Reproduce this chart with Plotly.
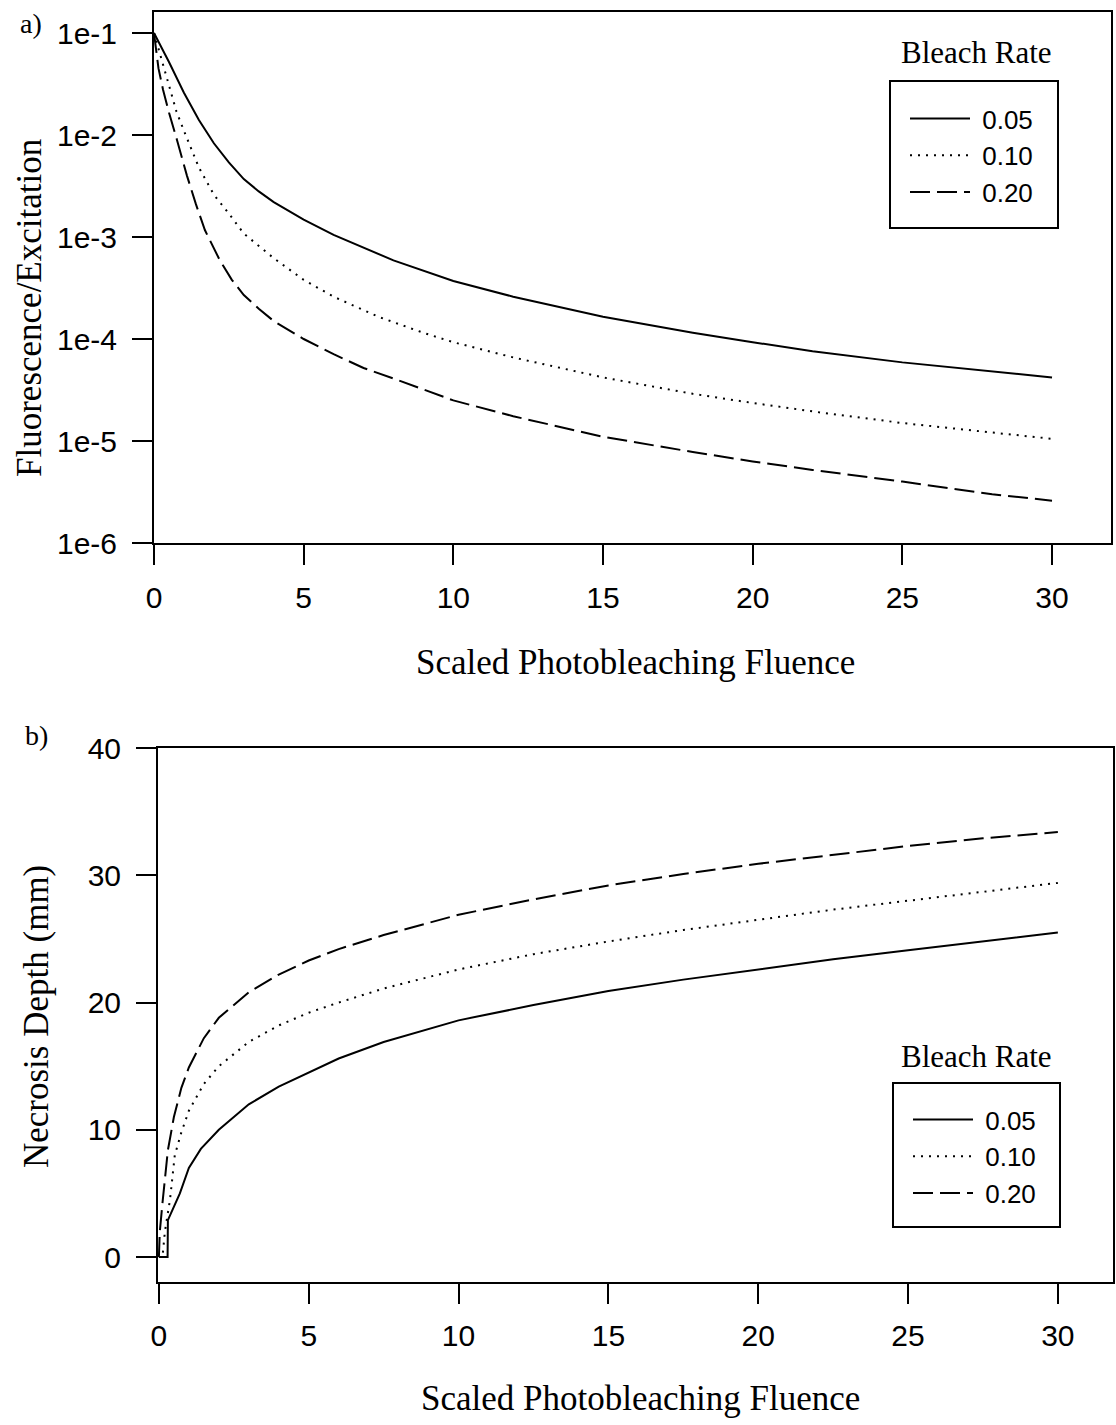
import plotly.graph_objects as go

W, H = 1116, 1425

# ---------------- data ----------------
rates = ["0.05", "0.10", "0.20"]

# panel a) Fluorescence/Excitation vs scaled photobleaching fluence
a_x_005 = [0, 0.5, 1, 1.5, 2, 2.5, 3, 3.5, 4, 4.5, 5, 6, 7, 8, 10, 12, 15, 18, 20, 22, 25, 28, 30]
a_y_005 = [0.1, 0.052, 0.026, 0.014, 0.0083, 0.0054, 0.0037, 0.0028, 0.0022, 0.0018, 0.00148, 0.00105,
           0.00078, 0.00059, 0.00037, 0.00026, 0.000165, 0.000115, 0.000093, 0.000076, 0.000059,
           0.000048, 0.000042]

a_x_010 = [0, 0.25, 0.5, 0.75, 1, 1.5, 2, 2.5, 3, 4, 5, 6, 7.5, 9, 10, 12, 15, 18, 20, 22, 25, 28, 30]
a_y_010 = [0.1, 0.055, 0.03, 0.017, 0.011, 0.0048, 0.0026, 0.0017, 0.00108, 0.00062, 0.00038, 0.00026,
           0.000165, 0.000115, 0.000093, 0.000066, 0.000042, 0.000029, 0.0000236, 0.0000195, 0.000015,
           0.000012, 0.0000105]

a_x_020 = [0, 0.15, 0.3, 0.5, 0.77, 1.1, 1.4, 1.7, 2.2, 2.6, 3, 3.5, 4, 5, 6, 7, 8, 10, 12, 15, 18, 20,
           22, 25, 28, 30]
a_y_020 = [0.1, 0.045, 0.028, 0.0166, 0.0089, 0.004, 0.0021, 0.00117, 0.00059, 0.00038, 0.00027,
           0.000198, 0.00015, 0.0001, 0.000071, 0.000052, 0.000041, 0.000025, 0.0000175, 0.000011,
           0.0000078, 0.0000063, 0.0000052, 0.000004, 0.000003, 0.0000026]

a_ytickvals = [1e-1, 1e-2, 1e-3, 1e-4, 1e-5, 1e-6]
a_yticktext = ["1e-1", "1e-2", "1e-3", "1e-4", "1e-5", "1e-6"]

# panel b) Necrosis depth (mm) vs scaled photobleaching fluence
b_x_005 = [0, 0.29, 0.3, 0.5, 0.7, 1.0, 1.4, 2, 3, 4, 5, 6, 7.5, 10, 12.5, 15, 17.5, 20, 22.5, 25, 27.5, 30]
b_y_005 = [0, 0, 2.9, 4.0, 5.0, 7.0, 8.5, 10.0, 12.0, 13.4, 14.5, 15.6, 16.9, 18.6, 19.8, 20.9, 21.8,
           22.6, 23.4, 24.1, 24.8, 25.5]

b_x_010 = [0, 0.12, 0.2, 0.37, 0.53, 0.75, 1, 1.5, 2, 3, 4, 5, 6, 7.5, 10, 12.5, 15, 17.5, 20, 22.5, 25, 27.5, 30]
b_y_010 = [0, 0, 2.0, 4.5, 8.0, 9.8, 11.5, 13.6, 15.0, 16.9, 18.2, 19.2, 20.0, 21.1, 22.6, 23.8, 24.8,
           25.7, 26.5, 27.3, 28.0, 28.7, 29.4]

b_x_020 = [0, 0.03, 0.13, 0.3, 0.5, 0.75, 1, 1.5, 2, 3, 4, 5, 6, 7.5, 10, 12.5, 15, 17.5, 20, 22.5, 25, 27.5, 30]
b_y_020 = [0, 2.0, 4.5, 8.4, 11.0, 13.3, 14.9, 17.2, 18.8, 20.8, 22.2, 23.3, 24.2, 25.3, 26.9, 28.1, 29.2,
           30.1, 30.9, 31.6, 32.3, 32.9, 33.4]

x_tickvals = [0, 5, 10, 15, 20, 25, 30]
b_ytickvals = [0, 10, 20, 30, 40]

# ---------------- styling ----------------
SANS = "Liberation Sans, Arial, sans-serif"
SERIF = "Liberation Serif, Times New Roman, serif"
dashes = ["solid", "2px,6px", "20px,7px"]
NB = "\u00a0"


def px_x(p):
    return p / W


def px_y(p):
    return 1 - p / H


fig = go.Figure()

a_sets = [(a_x_005, a_y_005), (a_x_010, a_y_010), (a_x_020, a_y_020)]
b_sets = [(b_x_005, b_y_005), (b_x_010, b_y_010), (b_x_020, b_y_020)]

for i, (xs, ys) in enumerate(a_sets):
    fig.add_trace(go.Scatter(x=xs, y=ys, mode="lines", name=NB + rates[i],
                             line=dict(color="black", width=2, dash=dashes[i]),
                             xaxis="x", yaxis="y", legend="legend",
                             legendgroup="a" + str(i)))
for i, (xs, ys) in enumerate(b_sets):
    fig.add_trace(go.Scatter(x=xs, y=ys, mode="lines", name=NB + rates[i],
                             line=dict(color="black", width=2, dash=dashes[i]),
                             xaxis="x2", yaxis="y2", legend="legend2",
                             legendgroup="b" + str(i)))

axis_common = dict(showline=True, linecolor="black", linewidth=2, mirror=True,
                   ticks="outside", tickcolor="black", tickwidth=2,
                   showgrid=False, zeroline=False, automargin=False,
                   tickfont=dict(family=SANS, size=30, color="black"))

legend_common = dict(xanchor="left", yanchor="top", borderwidth=0,
                     bgcolor="rgba(0,0,0,0)",
                     font=dict(family=SANS, size=26, color="black"),
                     tracegroupgap=3, itemwidth=60, traceorder="normal")

fig.update_layout(
    width=W, height=H,
    margin=dict(l=0, r=0, t=0, b=0),
    paper_bgcolor="white", plot_bgcolor="white",
    showlegend=True,
    xaxis=dict(domain=[px_x(154), px_x(1111)], range=[0, 31.97], anchor="y",
               tickvals=x_tickvals, ticklen=20, ticklabelstandoff=7, **axis_common),
    yaxis=dict(domain=[px_y(543), px_y(12)], type="log", range=[-6, -0.794], anchor="x",
               tickvals=a_ytickvals, ticktext=a_yticktext, ticklen=20, ticklabelstandoff=9,
               **axis_common),
    xaxis2=dict(domain=[px_x(158), px_x(1113)], range=[-0.03, 31.84], anchor="y2",
                tickvals=x_tickvals, ticklen=20, ticklabelstandoff=6, **axis_common),
    yaxis2=dict(domain=[px_y(1282), px_y(748)], range=[-1.96, 40], anchor="x2",
                tickvals=b_ytickvals, ticklen=20, ticklabelstandoff=9, **axis_common),
    legend=dict(x=px_x(905), y=px_y(95), **legend_common),
    legend2=dict(x=px_x(908), y=px_y(1096), **legend_common),
)

# legend frames (the original draws the title outside the boxed key)
for (x0, y0, x1, y1) in [(890, 81, 1058, 228), (893, 1083, 1060, 1227)]:
    fig.add_shape(type="rect", xref="paper", yref="paper",
                  x0=px_x(x0), x1=px_x(x1), y0=px_y(y1), y1=px_y(y0),
                  line=dict(color="black", width=2), fillcolor="rgba(0,0,0,0)", layer="below")

annots = [
    dict(text="Scaled Photobleaching Fluence", x=px_x(635), y=px_y(662), size=35, angle=0, fam=SERIF),
    dict(text="Scaled Photobleaching Fluence", x=px_x(640), y=px_y(1398), size=35, angle=0, fam=SERIF),
    dict(text="Fluorescence/Excitation", x=px_x(29), y=px_y(308), size=35, angle=-90, fam=SERIF),
    dict(text="Necrosis Depth (mm)", x=px_x(36), y=px_y(1017), size=35, angle=-90, fam=SERIF),
    dict(text="Bleach Rate", x=px_x(976), y=px_y(53), size=31, angle=0, fam=SERIF),
    dict(text="Bleach Rate", x=px_x(976), y=px_y(1056), size=31, angle=0, fam=SERIF),
    dict(text="a)", x=px_x(31), y=px_y(23), size=28, angle=0, fam=SERIF),
    dict(text="b)", x=px_x(36), y=px_y(735), size=28, angle=0, fam=SERIF),
]
for a in annots:
    fig.add_annotation(text=a["text"], x=a["x"], y=a["y"], xref="paper", yref="paper",
                       xanchor="center", yanchor="middle", showarrow=False, textangle=a["angle"],
                       font=dict(family=a["fam"], size=a["size"], color="black"))

fig.write_html("out.html")
